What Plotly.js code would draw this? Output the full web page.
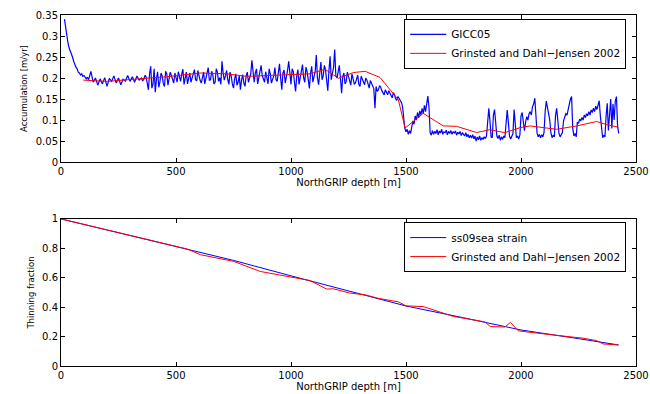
<!DOCTYPE html>
<html>
<head>
<meta charset="utf-8">
<script src="https://cdn.plot.ly/plotly-3.0.1.min.js"></script>
<style>html,body{margin:0;padding:0;background:#fff;}#chart{width:650px;height:394px;}</style>
</head>
<body>
<div id="chart"></div>
<script>
// ---- Top panel: accumulation (m/yr) vs NorthGRIP depth (m) ----
var giccDepth = [15,20,25,30,35,40,45,50,55,60,65,70,75,80,85,90,95,100,105,110,115,
120,130,140,150,160,170,180,190,200,210,220,230,240,250,260,270,280,290,300,310,320,330,340,
350,355,360,365,370,375,380,385,390,395,
400,405,410,415,420,425,430,435,440,445,
450,455,460,465,470,475,480,485,490,495,
500,505,510,515,520,525,530,535,540,545,
550,555,560,565,570,575,580,585,590,595,
600,605,610,615,620,625,630,635,640,645,
650,655,660,665,670,675,680,685,690,695,
700,705,710,715,720,725,730,735,740,745,
750,755,760,765,770,775,780,785,790,795,
800,805,810,815,820,825,830,835,840,845,
850,855,860,865,870,875,880,885,890,895,
900,905,910,915,920,925,930,935,940,945,
950,955,960,965,970,975,980,985,990,995,
1000,1005,1010,1015,1020,1025,1030,1035,1040,1045,
1050,1055,1060,1065,1070,1075,1080,1085,1090,1095,
1100,1105,1110,1115,1120,1125,1130,1135,1140,1145,
1150,1155,1160,1165,1170,1175,1180,1185,1190,1195,
1200,1205,1210,1215,1220,1225,1230,1235,1240,1245,
1250,1255,1260,1265,1270,1275,1280,1285,1290,1295,
1300,1305,1310,1315,1320,1325,1330,1335,1340,1345,
1350,1355,1360,1365,1370,1375,1380,1385,1390,1395,
1400,1405,1410,1415,1420,1425,1430,1435,1440,1445,
1450,1455,1460,1465,1470,1475,
1480,1485,1490,1495,1500,1505,1510,1515,1520,1525,1530,1535,1540,1545,1550,1555,1560,1565,1570,1575,1580,1585,1590,1595,
1600,1605,1610,1615,1620,1625,1630,1635,1640,1645,1650,1655,1660,1665,1670,1675,1680,1685,1690,1695,
1700,1705,1710,1715,1720,1725,1730,1735,1740,1745,1750,1755,1760,1765,1770,1775,1780,1785,1790,1795,
1800,1805,1810,1815,1820,1825,1830,1835,1840,1845,1850,1855,1860,1865,1870,1875,1880,1885,1890,1895,
1900,1905,1910,1915,1920,1925,1930,1935,1940,1945,1950,1955,1960,1965,1970,1975,1980,1985,1990,1995,
2000,2005,2010,2015,2020,2025,2030,2035,2040,2045,2050,2055,2060,2065,2070,2075,2080,2085,2090,2095,
2100,2105,2110,2115,2120,2125,2130,2135,2140,2145,2150,2155,2160,2165,2170,2175,2180,2185,2190,2195,
2200,2205,2210,2215,2220,2225,2230,2235,2240,2245,2250,2255,2260,2265,2270,2275,2280,2285,2290,2295,
2300,2305,2310,2315,2320,2325,2330,2335,2340,2345,2350,2355,2360,2365,2370,2375,2380,2385,2390,2395,
2400,2405,2410,2415,2420,2425];
var giccAcc = [0.340,0.318,0.298,0.285,0.272,0.266,0.259,0.250,0.240,0.230,0.226,0.222,0.214,0.212,0.207,0.210,0.204,0.206,0.200,0.198,0.202,
0.196,0.216,0.190,0.200,0.183,0.198,0.186,0.201,0.180,0.199,0.192,0.205,0.188,0.200,0.184,0.197,0.193,0.206,0.192,0.203,0.190,0.205,0.195,
0.200,0.193,0.197,0.206,0.203,0.190,0.172,0.210,0.228,0.176,
0.185,0.222,0.166,0.198,0.215,0.178,0.190,0.212,0.205,0.186,
0.180,0.216,0.210,0.183,0.195,0.214,0.206,0.194,0.188,0.212,
0.200,0.190,0.215,0.198,0.192,0.210,0.221,0.185,0.198,0.214,
0.186,0.205,0.212,0.190,0.200,0.214,0.220,0.196,0.193,0.218,
0.205,0.194,0.188,0.206,0.214,0.186,0.199,0.212,0.225,0.195,
0.196,0.216,0.208,0.186,0.190,0.222,0.214,0.192,0.201,0.185,
0.240,0.212,0.195,0.205,0.218,0.196,0.185,0.214,0.205,0.186,
0.176,0.198,0.210,0.183,0.190,0.206,0.172,0.195,0.208,0.188,
0.180,0.205,0.214,0.190,0.198,0.210,0.242,0.205,0.190,0.212,
0.222,0.186,0.200,0.214,0.230,0.206,0.195,0.190,0.215,0.200,
0.186,0.222,0.210,0.188,0.198,0.205,0.225,0.196,0.192,0.214,
0.234,0.200,0.172,0.212,0.219,0.188,0.200,0.218,0.240,0.200,
0.185,0.222,0.215,0.190,0.168,0.205,0.220,0.185,0.198,0.215,
0.232,0.200,0.190,0.226,0.215,0.196,0.175,0.212,0.228,0.190,
0.200,0.215,0.255,0.200,0.184,0.222,0.238,0.196,0.205,0.230,
0.220,0.194,0.170,0.218,0.252,0.196,0.210,0.225,0.268,0.205,
0.200,0.218,0.230,0.200,0.164,0.204,0.212,0.186,0.192,0.214,
0.205,0.190,0.183,0.210,0.200,0.186,0.188,0.200,0.207,0.185,
0.180,0.204,0.196,0.190,0.184,0.200,0.195,0.186,0.176,0.194,
0.188,0.182,0.175,0.128,0.180,0.168,0.172,0.182,0.178,0.170,
0.166,0.160,0.172,0.165,0.160,0.170,0.165,0.158,0.153,0.165,
0.160,0.150,0.147,0.156,0.152,0.145,
0.142,0.132,0.100,0.080,0.072,0.078,0.066,0.075,0.068,0.088,0.098,0.090,0.110,0.100,0.118,0.105,0.122,0.112,0.128,0.115,0.135,0.120,0.145,0.157,
0.130,0.070,0.064,0.075,0.066,0.073,0.068,0.077,0.065,0.074,0.069,0.078,0.066,0.072,0.070,0.076,0.065,0.073,0.068,0.075,
0.066,0.072,0.069,0.074,0.064,0.071,0.067,0.073,0.063,0.070,0.066,0.062,0.070,0.060,0.066,0.058,0.064,0.057,0.065,0.055,
0.062,0.050,0.060,0.053,0.062,0.052,0.058,0.054,0.060,0.056,0.062,0.110,0.128,0.098,0.060,0.058,0.112,0.125,0.090,0.062,
0.056,0.064,0.052,0.060,0.054,0.062,0.058,0.105,0.124,0.095,0.062,0.055,0.060,0.068,0.125,0.090,0.058,0.062,0.055,0.064,
0.110,0.118,0.092,0.075,0.095,0.108,0.100,0.115,0.120,0.112,0.132,0.138,0.152,0.120,0.068,0.060,0.066,0.058,0.065,0.060,
0.070,0.120,0.145,0.130,0.118,0.100,0.070,0.058,0.064,0.060,0.110,0.128,0.100,0.068,0.060,0.066,0.070,0.098,0.105,0.115,
0.112,0.128,0.135,0.150,0.156,0.080,0.062,0.068,0.060,0.095,0.092,0.102,0.098,0.106,0.100,0.112,0.106,0.115,0.110,0.120,
0.112,0.124,0.118,0.128,0.120,0.133,0.125,0.140,0.146,0.110,0.072,0.058,0.064,0.060,0.110,0.140,0.075,0.125,0.150,0.080,
0.138,0.100,0.145,0.156,0.085,0.068];

var gdjDepth = [97,199,315,459,604,720,807,923,1083,1148,1206,1271,1322,1387,1467,1496,1575,1662,1720,1807,1865,1930,1996,2039,2155,2242,2329,2373,2423];
var gdjAcc   = [0.195,0.192,0.197,0.203,0.212,0.210,0.204,0.207,0.210,0.221,0.1995,0.213,0.216,0.2015,0.148,0.081,0.116,0.086,0.085,0.0704,0.077,0.070,0.082,0.086,0.078,0.086,0.0965,0.089,0.083];

// ---- Bottom panel: thinning fraction vs depth ----
var ssDepth = [0,250,500,750,1000,1250,1500,1750,2000,2250,2425];
var ssThin  = [1.0,0.905,0.812,0.718,0.613,0.510,0.408,0.328,0.245,0.186,0.143];

var gdjThinDepth = [0,100,200,300,400,500,550,606,751,866,1000,1083,1155,1184,1256,1322,1380,1467,1500,1575,1706,1843,1867,1930,1954,1988,2140,2270,2328,2357,2423];
var gdjThin      = [1.0,0.962,0.924,0.886,0.848,0.812,0.795,0.757,0.711,0.643,0.606,0.581,0.523,0.525,0.496,0.484,0.460,0.436,0.409,0.404,0.337,0.300,0.268,0.265,0.297,0.239,0.211,0.189,0.173,0.150,0.143];

var xTicks = [0,500,1000,1500,2000,2500];
var accTicks = [0,0.05,0.1,0.15,0.2,0.25,0.3,0.35];
var thinTicks = [0,0.2,0.4,0.6,0.8,1];

var FONT = 'DejaVu Sans, Liberation Sans, Arial, sans-serif';

var traces = [
  {x: giccDepth, y: giccAcc, type: 'scatter', mode: 'lines', name: 'GICC05',
   line: {color: '#0000ff', width: 1.2}, xaxis: 'x', yaxis: 'y', legend: 'legend'},
  {x: gdjDepth, y: gdjAcc, type: 'scatter', mode: 'lines', name: 'Grinsted and Dahl\u2212Jensen 2002',
   line: {color: '#ff0000', width: 1}, xaxis: 'x', yaxis: 'y', legend: 'legend'},
  {x: ssDepth, y: ssThin, type: 'scatter', mode: 'lines', name: 'ss09sea strain',
   line: {color: '#0000ff', width: 1}, xaxis: 'x2', yaxis: 'y2', legend: 'legend2'},
  {x: gdjThinDepth, y: gdjThin, type: 'scatter', mode: 'lines', name: 'Grinsted and Dahl\u2212Jensen 2002',
   line: {color: '#ff0000', width: 1}, xaxis: 'x2', yaxis: 'y2', legend: 'legend2'}
];

function xax(anchor) {
  return {
    anchor: anchor, domain: [0, 1], range: [0, 2500], tickvals: xTicks, ticktext: xTicks.map(String),
    ticks: 'inside', ticklen: 4, tickcolor: '#000', showline: true, linecolor: '#000', linewidth: 1,
    mirror: 'ticks', showgrid: false, zeroline: false,
    tickfont: {family: FONT, size: 10, color: '#000'},
    title: {text: 'NorthGRIP depth [m]', font: {family: FONT, size: 10, color: '#000'}, standoff: 2}
  };
}
function yax(anchor, domain, range, ticks, title) {
  return {
    anchor: anchor, domain: domain, range: range, tickvals: ticks, ticktext: ticks.map(String),
    ticks: 'inside', ticklen: 4, tickcolor: '#000', showline: true, linecolor: '#000', linewidth: 1,
    mirror: 'ticks', showgrid: false, zeroline: false,
    tickfont: {family: FONT, size: 10, color: '#000'},
    title: {text: title, font: {family: FONT, size: 8.5, color: '#000'}, standoff: 6}
  };
}

var layout = {
  width: 650, height: 394,
  margin: {l: 61, r: 14, t: 15, b: 28},
  paper_bgcolor: '#fff', plot_bgcolor: '#fff',
  showlegend: true,
  xaxis: xax('y'),
  yaxis: yax('x', [0.581, 1], [0, 0.35], accTicks, 'Accumulation [m/yr]'),
  xaxis2: xax('y2'),
  yaxis2: yax('x2', [0, 0.419], [0, 1], thinTicks, 'Thinning fraction'),
  legend: {x: 0.983, xanchor: 'right', y: 0.989, yanchor: 'top', bgcolor: '#fff',
           bordercolor: '#000', borderwidth: 1, font: {family: FONT, size: 10.5, color: '#000'},
           tracegroupgap: 0, itemwidth: 36},
  legend2: {x: 0.983, xanchor: 'right', y: 0.41, yanchor: 'top', bgcolor: '#fff',
           bordercolor: '#000', borderwidth: 1, font: {family: FONT, size: 10.5, color: '#000'},
           tracegroupgap: 0, itemwidth: 36}
};

Plotly.newPlot('chart', traces, layout, {displayModeBar: false, staticPlot: true});
</script>
</body>
</html>
